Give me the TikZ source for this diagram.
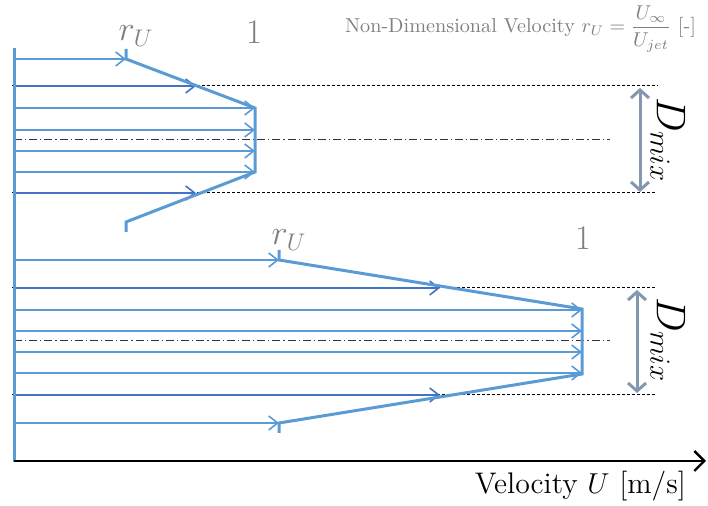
\documentclass[tikz,border=0pt]{standalone}
\usepackage{amsmath}
\usepackage{tikz}
\usetikzlibrary{arrows.meta,calc}
\definecolor{profblue}{HTML}{5B9BD5}
\definecolor{mixblue}{HTML}{4472C4}
\definecolor{dimgray}{HTML}{8497B0}
\definecolor{labgray}{HTML}{7F7F7F}
\begin{document}
\begin{tikzpicture}[x=0.5pt, y=-0.5pt,
  vel/.style={profblue, line width=0.8pt, -{Straight Barb[length=4.5pt,width=7pt]}},
  velmix/.style={vel, mixblue},
  profile/.style={profblue, line width=1.5pt},
  sep/.style={black, line width=0.5pt, dash pattern=on 1.5pt off 1pt},
  centre/.style={black!80, line width=0.5pt, dash pattern=on 4pt off 1.5pt on 0.6pt off 1.5pt},
  dim/.style={dimgray, line width=1.5pt, {Straight Barb[length=4pt,width=9pt]}-{Straight Barb[length=4pt,width=9pt]}},
  val/.style={labgray, font=\fontsize{17}{17}\selectfont},
  dmix/.style={rotate=-90, font=\fontsize{20}{20}\selectfont},
]
\useasboundingbox (0,0) rectangle (708,506);
% Mixing layer edges and centre lines
\foreach \y/\xe in {86/658, 193/656, 288/655, 395/655}
  \draw[sep] (12,\y) -- (\xe,\y);
\foreach \y in {140, 341}
  \draw[centre] (14,\y) -- (610,\y);
% Upper profile
\coordinate (ta) at (126,49);
\coordinate (tb) at (126,59);
\coordinate (tc) at (255,108);
\coordinate (td) at (255,172);
\coordinate (te) at (126,222);
\coordinate (tf) at (126,232);
\draw[vel] (14,59) -- (tb);
\foreach \y in {108, 130, 151, 172}
  \draw[vel] (14,\y) -- (255,\y);
\foreach \y in {86, 193}
  \draw[velmix] (14,\y) -- (196,\y);
\draw[profile] (ta) -- (tb) -- (tc) -- (td) -- (te) -- (tf);
% Lower profile
\coordinate (ba) at (279,250);
\coordinate (bb) at (279,260);
\coordinate (bc) at (582,309);
\coordinate (bd) at (582,374);
\coordinate (be) at (279,423);
\coordinate (bf) at (279,433);
\draw[vel] (14,260) -- (bb);
\draw[vel] (14,423) -- (be);
\foreach \y in {310, 331, 352, 373}
  \draw[vel] (14,\y) -- (582,\y);
\foreach \y in {288, 395}
  \draw[velmix] (14,\y) -- (440,\y);
\draw[profile] (ba) -- (bb) -- (bc) -- (bd) -- (be) -- (bf);
% Axes
\draw[profblue, line width=1.5pt] (14,48) -- (14,462);
\coordinate (origin) at (14,461);
\coordinate (uend) at (706,461);
\draw[black, line width=1.2pt, -{Straight Barb[length=5pt,width=10pt]}] (origin) -- (uend);
\node[anchor=east, font=\fontsize{14.9}{14.9}\selectfont] (ulabel) at (693,486) {Velocity $U$ [m/s]};
% Mixing widths
\coordinate (dta) at (640,88);
\coordinate (dtb) at (640,192);
\coordinate (dba) at (637,290);
\coordinate (dbb) at (637,393);
\draw[dim] (dta) -- (dtb);
\draw[dim] (dba) -- (dbb);
\node[dmix] (dmixtop) at (668,140) {$D_{mix}$};
\node[dmix] (dmixbot) at (668,340) {$D_{mix}$};
% Values
\node[val] (rutop) at (136,36) {$r_U$};
\node[val] (onetop) at (254,32) {$1$};
\node[val] (rubot) at (289,240) {$r_U$};
\node[val] (onebot) at (583,238) {$1$};
\node[labgray, anchor=east, font=\fontsize{10.1}{10.1}\selectfont] (title) at (703,29)
  {Non-Dimensional Velocity $r_U=\dfrac{U_\infty}{U_{jet}}$ [-]};
\end{tikzpicture}
\end{document}
